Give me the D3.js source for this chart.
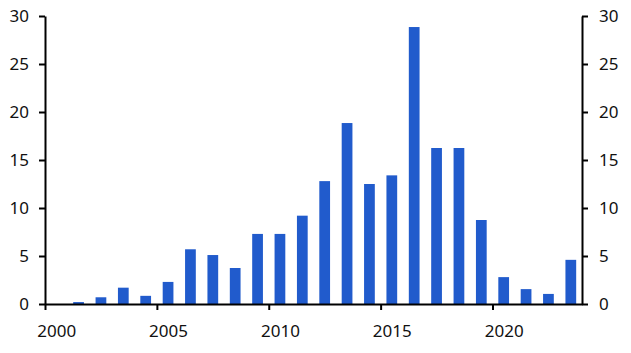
<!DOCTYPE html>
<html>
<head>
<meta charset="utf-8">
<script src="https://cdn.jsdelivr.net/npm/d3@7"></script>
<style>
  body { margin: 0; background: #fff; }
  text { font-family: "Noto Sans", "Open Sans", sans-serif; fill: #111; }
</style>
</head>
<body>
<div id="okvir"></div>
<script>
// podaci
const godine = [2001, 2002, 2003, 2004, 2005, 2006, 2007, 2008, 2009, 2010, 2011, 2012,
  2013, 2014, 2015, 2016, 2017, 2018, 2019, 2020, 2021, 2022, 2023]
const vrijednosti = [0.2, 0.7, 1.7, 0.85, 2.3, 5.7, 5.1, 3.75, 7.3, 7.3, 9.2, 12.8,
  18.85, 12.5, 13.4, 28.85, 16.25, 16.25, 8.75, 2.8, 1.55, 1.05, 4.6]
const xOznake = [2000, 2005, 2010, 2015, 2020]
const yOznake = [0, 5, 10, 15, 20, 25, 30]

const sirina = 631, visina = 353
const margine = { top: 16, right: 49, bottom: 49, left: 45 }

const svg = d3.select("#okvir").append("svg")
  .attr("width", sirina)
  .attr("height", visina)

const x = d3.scaleLinear()
  .domain([2000, 2024])
  .range([margine.left, sirina - margine.right])

const y = d3.scaleLinear()
  .domain([0, 30])
  .range([visina - margine.bottom, margine.top])

const sirinaStupca = (x(1) - x(0)) * 0.48

// stupci
svg.selectAll(".stupac")
  .data(godine)
  .enter().append("rect")
    .attr("class", "stupac")
    .attr("x", (d) => x(d + 0.5) - sirinaStupca / 2)
    .attr("width", sirinaStupca)
    .attr("y", (d, i) => y(vrijednosti[i]))
    .attr("height", (d, i) => y(0) - y(vrijednosti[i]))
    .attr("fill", "#215bcc")

// osi
const lijevaOs = d3.axisLeft(y).tickValues(yOznake).tickSize(6).tickPadding(10).tickSizeOuter(0)
const desnaOs = d3.axisRight(y).tickValues(yOznake).tickSize(6).tickPadding(11).tickSizeOuter(0)
const donjaOs = d3.axisBottom(x).tickValues(xOznake).tickFormat(d3.format("d")).tickSize(6).tickPadding(15).tickSizeOuter(0)

const stil = (g) => {
  g.selectAll(".domain").attr("stroke", "#000").attr("stroke-width", 2)
  g.selectAll(".tick line").attr("stroke", "#000").attr("stroke-width", 2)
  g.selectAll(".tick text").style("font-size", "17px").attr("fill", "#111")
}

svg.append("g")
  .attr("transform", `translate(${margine.left},0)`)
  .call(lijevaOs)
  .call(stil)

svg.append("g")
  .attr("transform", `translate(${sirina - margine.right},0)`)
  .call(desnaOs)
  .call(stil)
  .call((g) => g.selectAll(".tick text").attr("text-anchor", "start"))

// oznake godina su centrirane na sredinu godine
svg.append("g")
  .attr("transform", `translate(0,${visina - margine.bottom})`)
  .call(donjaOs)
  .call(stil)
  .call((g) => g.selectAll(".tick text").attr("x", (x(1) - x(0)) / 2))
</script>
</body>
</html>
